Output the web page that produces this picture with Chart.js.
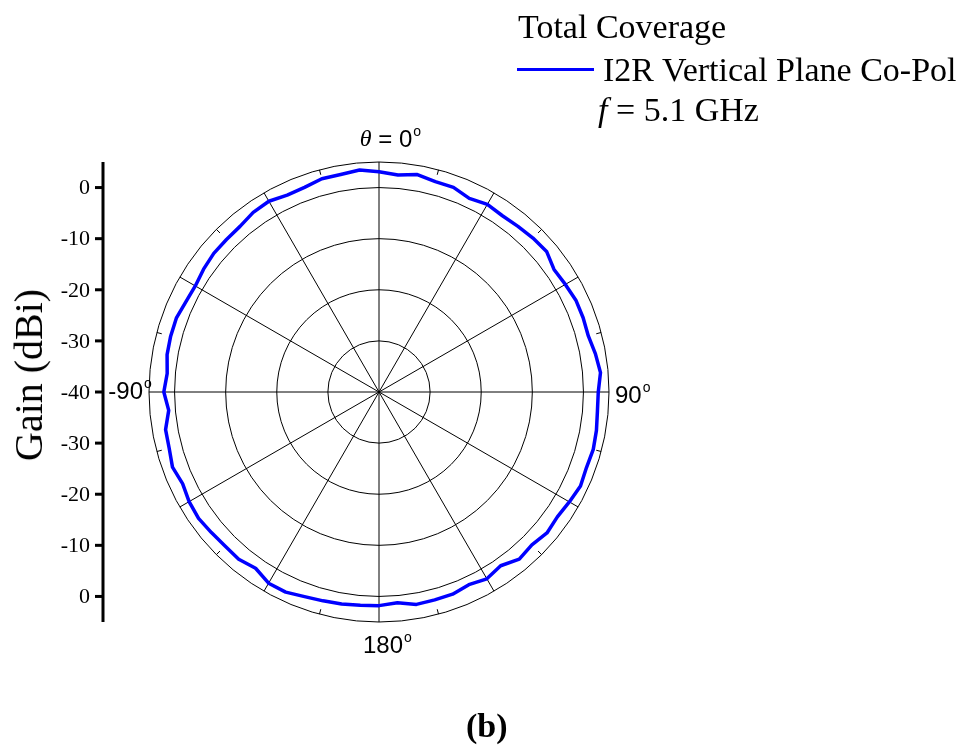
<!DOCTYPE html>
<html>
<head>
<meta charset="utf-8">
<title>Total Coverage</title>
<script src="https://cdn.jsdelivr.net/npm/chart.js@4.4.1/dist/chart.umd.min.js"></script>
<style>
body { margin: 0; background: #fff; }
#wrap { position: relative; width: 974px; height: 749px; }
#polar { position: absolute; left: 0; top: 0; }
.txt { position: absolute; font-family: "Liberation Serif", "Times New Roman", serif; font-size: 34px; line-height: 1; color: #000; white-space: nowrap; }
.leg-line { position: absolute; left: 517px; top: 68px; width: 77px; height: 3px; background: #0000ff; }
</style>
</head>
<body>
<div id="wrap">
    <canvas id="polar" width="974" height="749"></canvas>
    <div class="txt" style="left:518px; top:10px;">Total Coverage</div>
    <div class="leg-line"></div>
    <div class="txt" style="left:603px; top:53px;">I2R Vertical Plane Co-Pol</div>
    <div class="txt" style="left:598px; top:93px;"><i>f</i> = 5.1 GHz</div>
    <div class="txt" style="left:29px; top:375px; font-size:40px; transform: translate(-50%,-50%) rotate(-90deg);">Gain (dBi)</div>
    <div class="txt" style="left:466px; top:709px; font-weight:bold;">(b)</div>
</div>
<script>
    // angle in degrees, clockwise from top
    const angles = ['0','5','10','15','20','25','30','35','40','45','50','55',
        '60','65','70','75','80','85','90','95','100','105','110','115',
        '120','125','130','135','140','145','150','155','160','165','170','175',
        '180','185','190','195','200','205','210','215','220','225','230','235',
        '240','245','250','255','260','265','270','275','280','285','290','295',
        '300','305','310','315','320','325','330','335','340','345','350','355'];

    // co-pol gain in dBi
    const gain = [3.1, 2.6, 3.2, 2.6, 2.6, 1.8, 2.4, 2.1, 2.3, 2.6, 2.8, 1.8,
        2.1, 2.5, 2.5, 2.4, 3.0, 3.5, 2.9, 2.9, 3.2, 3.4, 3.2, 3.5,
        3.0, 2.6, 2.9, 2.3, 2.7, 1.5, 2.2, 1.6, 2.1, 2.1, 2.2, 1.4,
        1.8, 1.9, 2.1, 2.3, 2.6, 3.2, 3.2, 2.1, 2.7, 2.6, 2.8, 3.1,
        2.9, 2.4, 3.0, 2.5, 2.4, 1.3, 2.1, 1.6, 2.1, 2.2, 2.2, 1.7,
        1.5, 1.9, 2.2, 2.2, 2.3, 2.9, 3.1, 2.5, 2.6, 3.2, 3.2, 3.6];

    const ringValues = [-40, -30, -20, -10, 0, 5];
    const axisTicks = [0, -10, -20, -30, -40];
    const axisTickLabels = ['0', '-10', '-20', '-30', '-40'];
    const angleLabels = [
        {index: 0, pre: '\u03b8', text: ' = 0'},
        {index: 18, pre: '', text: '90'},
        {index: 36, pre: '', text: '180'},
        {index: 54, pre: '', text: '-90'}
    ];
    const rMin = -40, rMax = 5;

    function degLabel(ctx, lab, x, y, align) {
        ctx.font = 'italic 24px "Liberation Serif", serif';
        const wPre = ctx.measureText(lab.pre).width;
        ctx.font = '24px "Liberation Sans", Arial, sans-serif';
        const wTxt = ctx.measureText(lab.text).width;
        let x0 = x;
        if (align === 'center') x0 = x - (wPre + wTxt) / 2;
        if (align === 'right') x0 = x - (wPre + wTxt);
        ctx.textAlign = 'left';
        ctx.textBaseline = 'middle';
        ctx.font = 'italic 24px "Liberation Serif", serif';
        ctx.fillText(lab.pre, x0, y);
        ctx.font = '24px "Liberation Sans", Arial, sans-serif';
        ctx.fillText(lab.text, x0 + wPre, y);
        ctx.font = '14px "Liberation Sans", Arial, sans-serif';
        ctx.fillText('o', x0 + wPre + wTxt + 1, y - 8);
    }

    const overlay = {
        id: 'overlay',
        afterDraw(chart) {
            const r = chart.scales.r, ctx = chart.ctx;
            const cy = r.yCenter;
            ctx.save();
            ctx.fillStyle = '#000';
            ctx.strokeStyle = '#000';

            // small ticks on the outer ring, between the spokes
            ctx.lineWidth = 1;
            for (let i = 3; i < angles.length; i += 6) {
                const a = r.getPointPosition(i, r.getDistanceFromCenterForValue(rMax));
                const b = r.getPointPosition(i, r.getDistanceFromCenterForValue(rMax - 1));
                ctx.beginPath(); ctx.moveTo(a.x, a.y); ctx.lineTo(b.x, b.y); ctx.stroke();
            }

            // mirrored gain axis on the left
            const axisX = 103;
            const top = r.getDistanceFromCenterForValue(rMax);
            ctx.lineWidth = 3;
            ctx.beginPath(); ctx.moveTo(axisX, cy - top); ctx.lineTo(axisX, cy + top); ctx.stroke();
            ctx.font = '22px "Liberation Serif", "Times New Roman", serif';
            ctx.textAlign = 'right';
            ctx.textBaseline = 'middle';
            axisTicks.forEach((v, k) => {
                const d = r.getDistanceFromCenterForValue(v);
                const ys = d > 0 ? [cy - d, cy + d] : [cy];
                ys.forEach(y => {
                    ctx.beginPath(); ctx.moveTo(axisX - 8, y); ctx.lineTo(axisX, y); ctx.stroke();
                    ctx.fillText(axisTickLabels[k], axisX - 13, y + 1);
                });
            });

            // angle labels
            const outer = r.getDistanceFromCenterForValue(rMax);
            angleLabels.forEach(lab => {
                const p = r.getPointPosition(lab.index, outer);
                if (lab.index === 0) degLabel(ctx, lab, p.x + 7, p.y - 22, 'center');
                else if (lab.index === 18) degLabel(ctx, lab, p.x + 6, p.y + 4, 'left');
                else if (lab.index === 36) degLabel(ctx, lab, p.x + 4, p.y + 24, 'center');
                else degLabel(ctx, lab, p.x - 6, p.y, 'right');
            });
            ctx.restore();
        }
    };

    new Chart('polar', {
        type: 'radar',
        data: {
            labels: angles,
            datasets: [{
                label: 'I2R Vertical Plane Co-Pol',
                data: gain,
                borderColor: '#0000ff',
                borderWidth: 3.5,
                borderJoinStyle: 'round',
                pointRadius: 0,
                fill: false,
                tension: 0
            }]
        },
        options: {
            responsive: false,
            animation: false,
            layout: {padding: {left: 149, top: 162, right: 365, bottom: 127}},
            plugins: {legend: {display: false}, tooltip: {enabled: false}},
            scales: {
                r: {
                    min: rMin,
                    max: rMax,
                    afterBuildTicks: s => { s.ticks = ringValues.map(v => ({value: v})); },
                    ticks: {display: false},
                    pointLabels: {display: false},
                    grid: {circular: true, color: '#000', lineWidth: 1},
                    angleLines: {
                        color: '#000',
                        lineWidth: ctx => ctx.index % 6 === 0 ? 1 : 0
                    }
                }
            }
        },
        plugins: [overlay]
    });
</script>
</body>
</html>
